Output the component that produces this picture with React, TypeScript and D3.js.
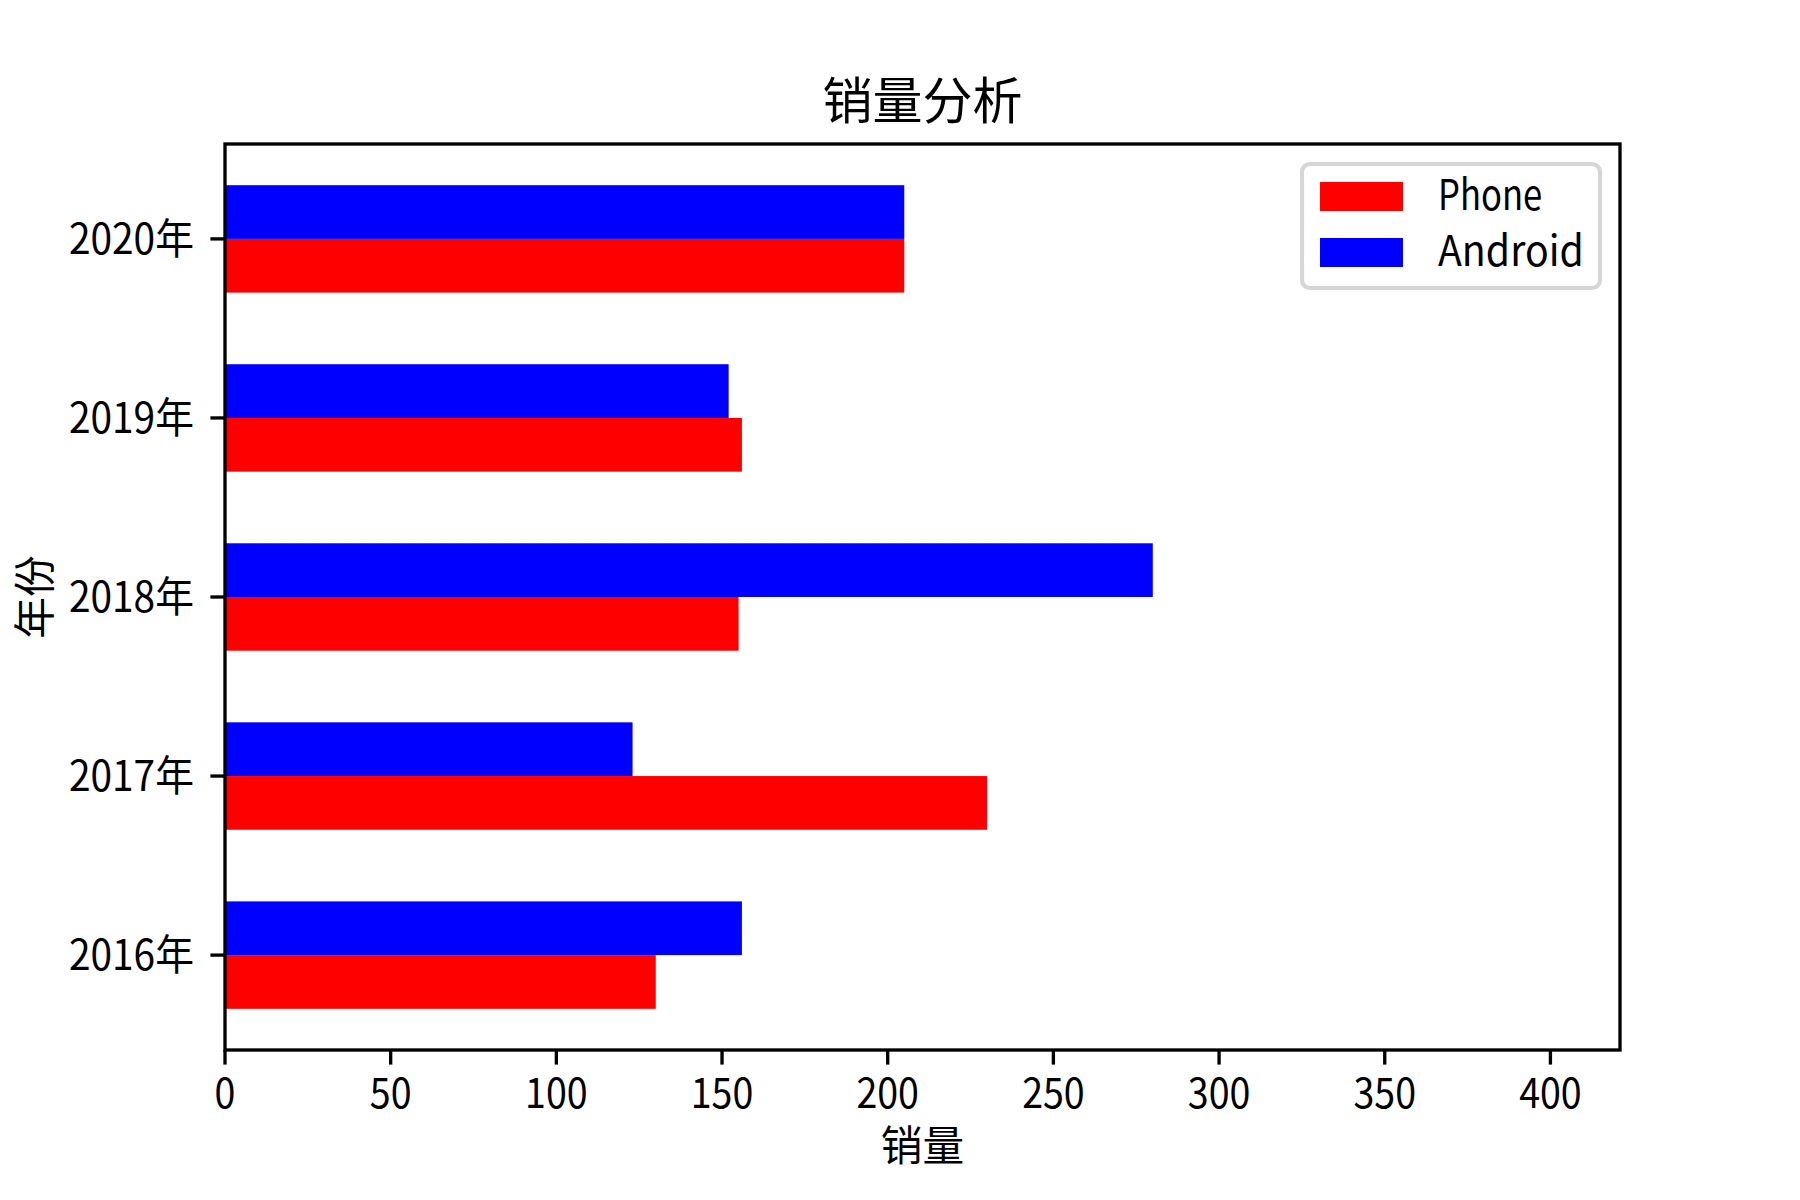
import React from "react";
import * as d3 from "d3";

const years = ["2016年", "2017年", "2018年", "2019年", "2020年"];
const phone = [130, 230, 155, 156, 205];
const android = [156, 123, 280, 152, 205];
const xTicks = [0, 50, 100, 150, 200, 250, 300, 350, 400];
const seriesNames = ["Phone", "Android"];
const seriesColors = ["#ff0000", "#0000ff"];

const W = 1800;
const H = 1200;
const M = { left: 225, right: 1620, top: 144, bottom: 1050 };
const FS = 41.67;
const FONT = "'Noto Sans CJK SC', 'Noto Sans', sans-serif";
const BAR_H = 0.3;

// SimHei-like widths: half-width latin, full-width CJK
const tlen = (s: string, fs: number) =>
  Array.from(s).reduce((a, c) => a + (c.charCodeAt(0) < 256 ? 0.5 : 1), 0) * fs;

function T(props: any) {
  const { text, fs = FS, ...rest } = props;
  return (
    <text
      fontFamily={FONT}
      fontSize={fs}
      fill="#000"
      textLength={tlen(text, fs)}
      lengthAdjust="spacingAndGlyphs"
      {...rest}
    >
      {text}
    </text>
  );
}

export default function App() {
  const x = d3.scaleLinear().domain([0, 421]).range([M.left, M.right]);
  const y = d3.scaleLinear().domain([-0.53, 4.53]).range([M.bottom, M.top]);
  const idx = d3.range(years.length);
  const lw = 3.33;
  const tick = 14.6;

  const legX = 1302;
  const legY = 164;
  const legW = 298;
  const legH = 124;

  return (
    <svg
      width={W}
      height={H}
      style={{ position: "absolute", left: 0, top: 0, background: "#fff" }}
    >
      <rect x={0} y={0} width={W} height={H} fill="#fff" />
      {/* bars */}
      {idx.map((i) => (
        <g key={i}>
          <rect
            x={x(0)}
            y={y(i)}
            width={x(phone[i]) - x(0)}
            height={y(i - BAR_H) - y(i)}
            fill={seriesColors[0]}
          />
          <rect
            x={x(0)}
            y={y(i + BAR_H)}
            width={x(android[i]) - x(0)}
            height={y(i) - y(i + BAR_H)}
            fill={seriesColors[1]}
          />
        </g>
      ))}
      {/* spines */}
      <rect
        x={M.left}
        y={M.top}
        width={M.right - M.left}
        height={M.bottom - M.top}
        fill="none"
        stroke="#000"
        strokeWidth={lw}
      />
      {/* x ticks */}
      {xTicks.map((t) => (
        <g key={t}>
          <line
            x1={x(t)}
            x2={x(t)}
            y1={M.bottom}
            y2={M.bottom + tick}
            stroke="#000"
            strokeWidth={lw}
          />
          <T text={String(t)} x={x(t)} y={1108} textAnchor="middle" />
        </g>
      ))}
      {/* y ticks */}
      {idx.map((i) => (
        <g key={i}>
          <line
            x1={M.left - tick}
            x2={M.left}
            y1={y(i)}
            y2={y(i)}
            stroke="#000"
            strokeWidth={lw}
          />
          <T text={years[i]} x={194} y={y(i) + 15} textAnchor="end" />
        </g>
      ))}
      {/* labels */}
      <T text="销量分析" fs={50} x={(M.left + M.right) / 2} y={119} textAnchor="middle" />
      <T text="销量" x={(M.left + M.right) / 2} y={1161} textAnchor="middle" />
      <T
        text="年份"
        x={0}
        y={0}
        textAnchor="middle"
        transform={`translate(50, ${(M.top + M.bottom) / 2}) rotate(-90)`}
      />
      {/* legend */}
      <rect
        x={legX}
        y={legY}
        width={legW}
        height={legH}
        rx={8}
        ry={8}
        fill="#fff"
        fillOpacity={0.8}
        stroke="#d6d6d6"
        strokeWidth={4.17}
      />
      {seriesNames.map((n, k) => (
        <g key={n}>
          <rect
            x={1320}
            y={182 + k * 56}
            width={83}
            height={29}
            fill={seriesColors[k]}
          />
          <T text={n} x={1438} y={210 + k * 56} />
        </g>
      ))}
    </svg>
  );
}
